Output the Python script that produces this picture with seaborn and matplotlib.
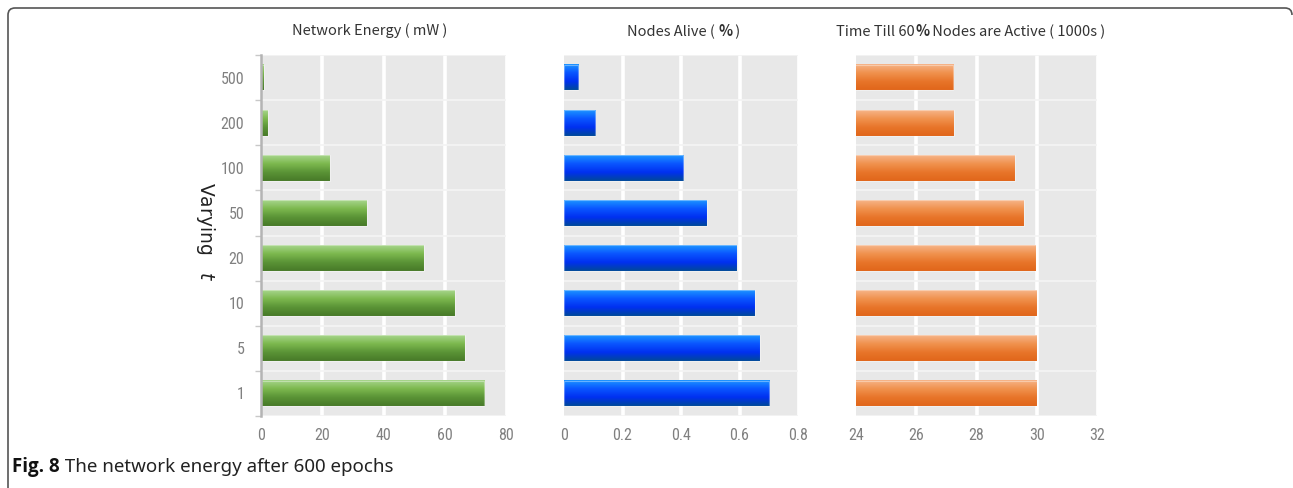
import numpy as np
import pandas as pd
import seaborn as sns
import matplotlib
matplotlib.use("Agg")
import matplotlib.pyplot as plt
from matplotlib import font_manager
from matplotlib.colors import LinearSegmentedColormap
from matplotlib.patches import PathPatch
from matplotlib.path import Path
from matplotlib.transforms import Affine2D
from matplotlib.offsetbox import TextArea, HPacker, AnnotationBbox

# ---- data -------------------------------------------------------------
t_values = ["500", "200", "100", "50", "20", "10", "5", "1"]
network_energy = [0.9, 2.2, 22.5, 34.5, 53.1, 63.2, 66.6, 72.9]          # mW
nodes_alive = [0.049, 0.106, 0.408, 0.488, 0.590, 0.652, 0.670, 0.701]   # fraction
time_to_60 = [27.22, 27.25, 29.27, 29.57, 29.96, 30.0, 30.0, 30.0]       # 1000 s

energy_ticks = [0, 20, 40, 60, 80]
alive_ticks = [0, 0.2, 0.4, 0.6, 0.8]
time_ticks = [24, 26, 28, 30, 32]

sns.set_theme(style="white")
tick_font = ["Liberation Sans Narrow", "Roboto Condensed", "DejaVu Sans"]
title_font = ["Noto Sans CJK SC", "DejaVu Sans"]
plt.rcParams["font.family"] = ["Noto Sans CJK SC", "DejaVu Sans"]


def has_bold(family):
    try:
        path = font_manager.findfont(
            font_manager.FontProperties(family=family, weight="bold"),
            fallback_to_default=False)
    except Exception:
        return False
    name = path.lower()
    return "bold" in name or "-b." in name or "heavy" in name or "black" in name


def bold_family(candidates):
    for fam in candidates:
        if has_bold(fam):
            return fam
    return "DejaVu Sans"


cap_regular = ["Noto Sans", "Open Sans", "DejaVu Sans"]
cap_bold = bold_family(["Noto Sans", "Open Sans", "Lato", "Liberation Sans", "DejaVu Sans"])
title_bold = bold_family(["Noto Sans CJK SC", "Noto Sans", "Open Sans", "DejaVu Sans"])

W, H = 1293, 488
DPI = 100
fig = plt.figure(figsize=(W / DPI, H / DPI), dpi=DPI)


def px_axes(x0, x1, y0, y1):
    return fig.add_axes([x0 / W, 1 - y1 / H, (x1 - x0) / W, (y1 - y0) / H])


gradients = {
    "green": ["#a6d58a", "#7cb84e", "#5a9336", "#487a28"],
    "blue": ["#1b93ff", "#0a55ff", "#0030f0", "#00499a"],
    "orange": ["#f6b387", "#f0924e", "#e8752a", "#e0661a"],
}


def draw_panel(ax, values, ticks, scheme, lo):
    df = pd.DataFrame({"t": t_values, "v": values})
    sns.barplot(data=df, x="v", y="t", orient="h", ax=ax, width=0.57,
                color="#888888", saturation=1)
    ax.set_facecolor("#e8e8e8")
    cmap = LinearSegmentedColormap.from_list(scheme, gradients[scheme])
    grad = np.linspace(0, 1, 64).reshape(-1, 1)
    for p in list(ax.patches):
        x0 = max(p.get_x(), lo)
        x1 = p.get_x() + p.get_width()
        y_top = p.get_y()
        y_bot = p.get_y() + p.get_height()
        p.set_facecolor("none")
        p.set_edgecolor((1, 1, 1, 0.35))
        p.set_linewidth(0.8)
        p.set_zorder(4)
        ax.imshow(grad, cmap=cmap, aspect="auto", origin="upper",
                  extent=(x0, x1, y_bot, y_top), zorder=3, interpolation="bilinear")
    ax.set_xlim(ticks[0], ticks[-1])
    ax.set_ylim(len(t_values) - 0.5, -0.5)
    ax.set_xticks(ticks)
    ax.set_xticklabels([f"{v:g}" for v in ticks], fontfamily=tick_font,
                       fontsize=11.5, color="#808080")
    ax.tick_params(axis="x", length=0, pad=9)
    # white gridlines: vertical at ticks, horizontal between categories
    for v in ticks[1:-1]:
        ax.axvline(v, color="white", lw=2.6, zorder=1)
    ax.axvline(ticks[-1], color="white", lw=1.2, zorder=1)
    for k in range(len(t_values) + 1):
        ax.axhline(k - 0.5, color="#f4f4f4", lw=1.3, zorder=1)
    ax.set_xlabel("")
    ax.set_ylabel("")
    for s in ax.spines.values():
        s.set_visible(False)


ax1 = px_axes(261, 506, 55, 416)
ax2 = px_axes(564, 798, 55, 416)
ax3 = px_axes(856, 1097, 55, 416)

draw_panel(ax1, network_energy, energy_ticks, "green", 0)
draw_panel(ax2, nodes_alive, alive_ticks, "blue", 0)
draw_panel(ax3, time_to_60, time_ticks, "orange", 24)

# left axis with category labels on the first panel only
ax1.spines["left"].set_visible(True)
ax1.spines["left"].set_color("#b4b4b4")
ax1.spines["left"].set_linewidth(1.8)
ax1.spines["left"].set_zorder(5)
ax1.set_yticks(range(len(t_values)))
ax1.set_yticklabels(t_values, fontfamily=tick_font, fontsize=11.5, color="#808080")
ax1.tick_params(axis="y", which="major", length=0, pad=12)
ax1.set_yticks(np.arange(-0.5, len(t_values)), minor=True)
ax1.tick_params(axis="y", which="minor", left=True, length=4, width=1, color="#c8c8c8")
for ax in (ax2, ax3):
    ax.set_yticks([])

# y label
fig.text(205 / W, 1 - 232 / H, r"Varying   $t$", rotation=-90, ha="center",
         va="center", fontsize=13.5, color="#222222",
         fontfamily=["Liberation Sans Narrow", "DejaVu Sans"])


def title_row(parts, cx, cy):
    boxes = []
    for s, bold in parts:
        props = dict(fontsize=10.5, color="#333333")
        if bold:
            props.update(fontweight="bold", fontfamily=title_bold)
        else:
            props.update(fontfamily=title_font)
        boxes.append(TextArea(s, textprops=props))
    row = HPacker(children=boxes, align="baseline", pad=0, sep=0)
    ab = AnnotationBbox(row, (cx / W, 1 - cy / H), xycoords="figure fraction",
                        frameon=False, box_alignment=(0.5, 0.5))
    fig.add_artist(ab)


title_row([("Network Energy ( mW )", False)], 370, 31)
title_row([("Nodes Alive ( ", False), ("%", True), (" )", False)], 684, 31)
title_row([("Time Till 60", False), ("%", True),
           (" Nodes are Active ( 1000s )", False)], 971, 31)

# caption
cap = HPacker(children=[
    TextArea("Fig. 8", textprops=dict(fontsize=13.5, fontweight="bold", color="#111111",
                                      fontfamily=cap_bold)),
    TextArea(" The network energy after 600 epochs",
             textprops=dict(fontsize=13.5, color="#222222", fontfamily=cap_regular)),
], align="baseline", pad=0, sep=0)
fig.add_artist(AnnotationBbox(cap, (12 / W, 1 - 467 / H), xycoords="figure fraction",
                              frameon=False, box_alignment=(0, 0.5)))

# outer frame: left side and top with rounded corners, open at the bottom
r = 7
left, top, right = 8, 8, 1292
verts = [(left, H + 5), (left, top + r), (left, top), (left + r, top),
         (right - r, top), (right, top), (right, top + r)]
codes = [Path.MOVETO, Path.LINETO, Path.CURVE3, Path.CURVE3,
         Path.LINETO, Path.CURVE3, Path.CURVE3]
verts = [(x, H - y) for x, y in verts]
px_to_fig = Affine2D().scale(1 / DPI) + fig.dpi_scale_trans
frame = PathPatch(Path(verts, codes), transform=px_to_fig, facecolor="none",
                  edgecolor="#555555", lw=1.2, clip_on=False)
fig.add_artist(frame)

fig.savefig("out.png", dpi=DPI)
